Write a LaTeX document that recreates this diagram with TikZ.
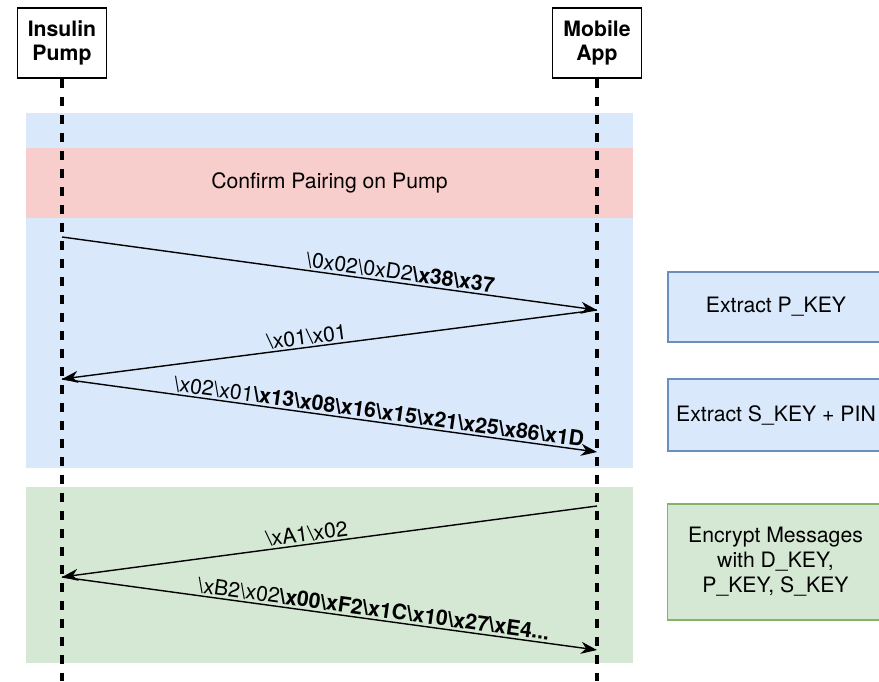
\documentclass[tikz,border=0pt]{standalone}
\usepackage{fontspec}
\setmainfont{TeX Gyre Heros}
\usepackage{xcolor}
\usepackage{tikz}
\usetikzlibrary{arrows.meta,positioning}
\definecolor{phaseblue}{HTML}{DAE8FC}
\definecolor{edgeblue}{HTML}{6C8EBF}
\definecolor{phasered}{HTML}{F8CECC}
\definecolor{phasegreen}{HTML}{D5E8D4}
\definecolor{edgegreen}{HTML}{82B366}
\newcommand{\bs}{\symbol{92}}

\begin{document}
\begin{tikzpicture}[
    x=0.5pt, y=-0.5pt,
    font=\fontsize{10.6pt}{12pt}\selectfont,
    actor/.style={rectangle, draw, line width=0.8pt, fill=white, minimum width=44.5pt, minimum height=35pt, align=center, inner sep=0pt, font=\fontsize{10.6pt}{12pt}\selectfont\bfseries},
    phase/.style={rectangle, minimum width=303.5pt, inner sep=0pt, align=center},
    task/.style={rectangle, draw, line width=0.6pt, minimum width=108pt, align=center, inner sep=0pt},
    lifeline/.style={line width=1.6pt, dash pattern=on 4.5pt off 4.5pt},
    msg/.style={line width=0.7pt, -{Stealth[length=8pt, width=6pt, inset=2.5pt]}},
    msglabel/.style={sloped, above, inner sep=1pt}
]
\useasboundingbox (0,0) rectangle (879,681);

% Phases
\node[phase, fill=phaseblue, minimum height=177.5pt] (pairing) at (329.5,290.5) {};
\node[phase, fill=phasered, minimum height=35pt] (confirm) at (329.5,183) {Confirm Pairing on Pump};
\node[phase, fill=phasegreen, minimum height=88pt] (session) at (329.5,575) {};

\node[actor] (pump) at (62,43) {Insulin\\Pump};
\node[actor] (app) at (597,43) {Mobile\\App};

% Lifelines
\coordinate (bottom) at (0,681);
\draw[lifeline] (pump.south) -- (pump.south |- bottom);
\draw[lifeline] (app.south) -- (app.south |- bottom);

\coordinate (p1) at (62,237);
\coordinate (a1) at (597,310);
\coordinate (p2) at (62,379);
\coordinate (a2) at (597,452);
\coordinate (a3) at (597,506);
\coordinate (p3) at (62,577);
\coordinate (a4) at (597,650);

\draw[msg] (p1) -- node[msglabel, pos=0.63] {\bs 0x02\bs 0xD2\textbf{\bs x38\bs x37}} (a1);
\draw[msg] (a1) -- node[msglabel, pos=0.54] {\bs x01\bs x01} (p2);
\draw[msg] (p2) -- node[msglabel, pos=0.59] {\bs x02\bs x01\textbf{\bs x13\bs x08\bs x16\bs x15\bs x21\bs x25\bs x86\bs x1D}} (a2);
\draw[msg] (a3) -- node[msglabel, pos=0.54] {\bs xA1\bs x02} (p3);
\draw[msg] (p3) -- node[msglabel, pos=0.58] {\bs xB2\bs x02\textbf{\bs x00\bs xF2\bs x1C\bs x10\bs x27\bs xE4...}} (a4);

% Key handling
\node[task, fill=phaseblue, draw=edgeblue, minimum height=35pt] (pkey) at (776,307) {Extract P\_KEY};
\node[task, fill=phaseblue, draw=edgeblue, minimum height=36pt] (skey) at (776,415) {Extract S\_KEY + PIN};
\node[task, fill=phasegreen, draw=edgegreen, minimum height=58pt, font=\fontsize{10.6pt}{12.5pt}\selectfont] (encrypt) at (775.5,562) {Encrypt Messages\\with D\_KEY,\\P\_KEY, S\_KEY};

\end{tikzpicture}
\end{document}
